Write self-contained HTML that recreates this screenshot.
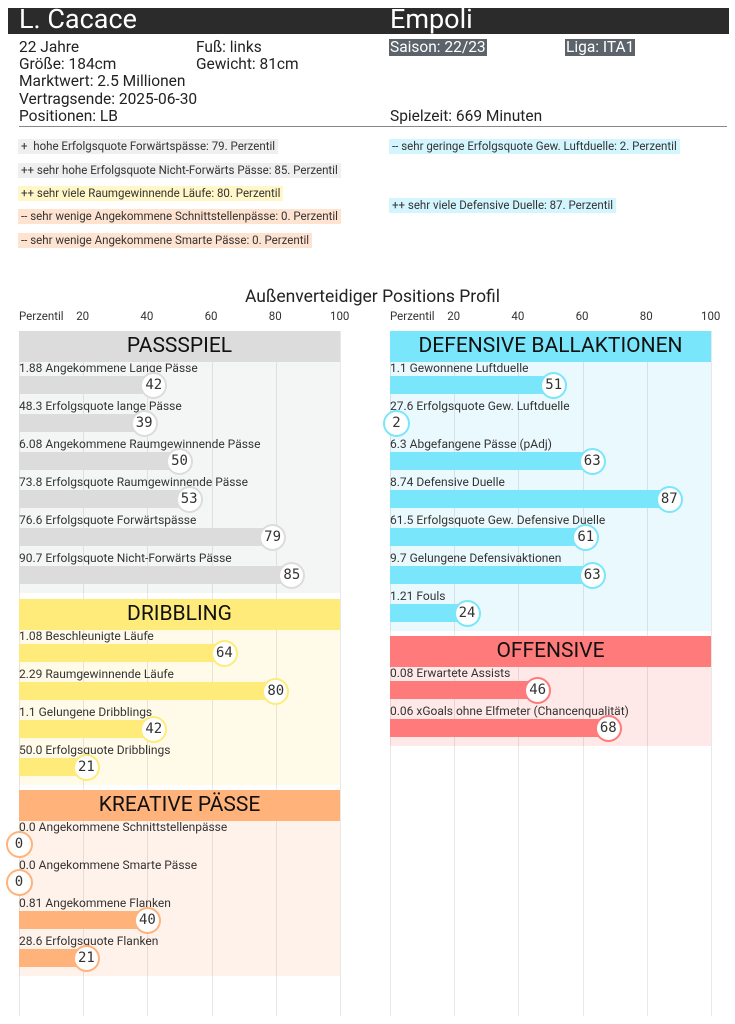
<!DOCTYPE html>
<html><head><meta charset="utf-8"><style>
body{margin:0;width:735px;height:1024px;background:#fff;position:relative;overflow:hidden;font-family:"Roboto","Liberation Sans",sans-serif;color:#222}
.a{position:absolute;white-space:nowrap}
.hdr{left:8px;top:8px;width:721px;height:26px;background:#2b2b2b}
.t{color:#fff;font-size:27px;line-height:27px;top:6px}
.i{font-size:15.5px;line-height:17px;color:#222}
.tag{font-size:11.5px;line-height:15px;padding:0 3px;color:#333}
.sec{font-size:21px;text-align:center;line-height:31px;color:#111}
.lab{font-size:12px;line-height:13px;color:#333}
.c{width:23px;height:23px;border-radius:50%;background:#fff;border:2px solid;font-family:"DejaVu Sans Mono","Liberation Mono",monospace;font-size:14px;line-height:23px;text-align:center;color:#333}
.g{width:1px;background:rgba(0,0,0,0.09);top:331px;height:685px}
.tk{font-size:11.5px;color:#333;top:309px}
</style></head><body>
<div class="a hdr"></div>
<div class="a t" style="left:19px">L. Cacace</div>
<div class="a t" style="left:390px">Empoli</div>
<div class="a i" style="left:19px;top:39px">22 Jahre</div>
<div class="a i" style="left:196px;top:39px">Fuß: links</div>
<div class="a i" style="left:19px;top:56px">Größe: 184cm</div>
<div class="a i" style="left:196px;top:56px">Gewicht: 81cm</div>
<div class="a i" style="left:19px;top:73px">Marktwert: 2.5 Millionen</div>
<div class="a i" style="left:19px;top:91px">Vertragsende: 2025-06-30</div>
<div class="a i" style="left:19px;top:108px">Positionen: LB</div>
<div class="a i" style="left:390px;top:108px">Spielzeit: 669 Minuten</div>
<div class="a i" style="left:389px;top:39px;background:#5c636b;color:#fff;padding:0 1px">Saison: 22/23</div>
<div class="a i" style="left:565px;top:39px;background:#5c636b;color:#fff;padding:0 1px">Liga: ITA1</div>
<div class="a" style="left:19px;top:126px;width:708px;height:1px;background:#888"></div>
<div class="a tag" style="left:18px;top:139px;background:#efefef">+&nbsp; hohe Erfolgsquote Forwärtspässe: 79. Perzentil</div>
<div class="a tag" style="left:18px;top:163px;background:#efefef">++ sehr hohe Erfolgsquote Nicht-Forwärts Pässe: 85. Perzentil</div>
<div class="a tag" style="left:18px;top:186px;background:#fff7c8">++ sehr viele Raumgewinnende Läufe: 80. Perzentil</div>
<div class="a tag" style="left:18px;top:209px;background:#ffe3d1">-- sehr wenige Angekommene Schnittstellenpässe: 0. Perzentil</div>
<div class="a tag" style="left:18px;top:233px;background:#ffe3d1">-- sehr wenige Angekommene Smarte Pässe: 0. Perzentil</div>
<div class="a tag" style="left:389px;top:139px;background:#d3f5fd">-- sehr geringe Erfolgsquote Gew. Luftduelle: 2. Perzentil</div>
<div class="a tag" style="left:389px;top:198px;background:#d3f5fd">++ sehr viele Defensive Duelle: 87. Perzentil</div>
<div class="a" style="left:0;width:735px;text-align:center;top:287px;font-size:17.5px;color:#222;padding-left:10px;box-sizing:border-box">Außenverteidiger Positions Profil</div>
<div id="ch"></div>
<script>
var bg='',h='',gl='';
function sec(x0,H,name,hc,bc,rc,rows){
 var n=rows.length;var end=H+45+38*(n-1)+18+9;
 bg+='<div class="a" style="left:'+x0+'px;top:'+(H+31)+'px;width:321px;height:'+(end-H-31)+'px;background:'+bc+'"></div>';
 h+='<div class="a sec" style="left:'+x0+'px;top:'+H+'px;width:321px;height:31px;background:'+hc+'">'+name+'</div>';
 rows.forEach(function(r,i){var y=H+38+38*i;var w=r[1]*3.21;
  h+='<div class="a lab" style="left:'+x0+'px;top:'+(y-7)+'px">'+r[0]+'</div>';
  h+='<div class="a" style="left:'+x0+'px;top:'+(y+7)+'px;width:'+w+'px;height:18px;background:'+hc+'"></div>';
  h+='<div class="a c" style="left:'+(x0+w-13.5)+'px;top:'+(y+3)+'px;border-color:'+rc+'">'+r[1]+'</div>';});
}
[19,390].forEach(function(x0){
 gl+='<div class="a tk" style="left:'+x0+'px">Perzentil</div>';
 for(var k=0;k<=5;k++){var x=x0+k*64.2;gl+='<div class="a g" style="left:'+Math.round(x)+'px"></div>';
  if(k>0)gl+='<div class="a tk" style="left:'+(x-(k==5?10:7))+'px">'+(k*20)+'</div>';}
});
sec(19,331,'PASSSPIEL','#dcdcdc','#f4f6f6','#dcdcdc',[['1.88 Angekommene Lange Pässe',42],['48.3 Erfolgsquote lange Pässe',39],['6.08 Angekommene Raumgewinnende Pässe',50],['73.8 Erfolgsquote Raumgewinnende Pässe',53],['76.6 Erfolgsquote Forwärtspässe',79],['90.7 Erfolgsquote Nicht-Forwärts Pässe',85]]);
sec(19,599,'DRIBBLING','#ffeb7a','#fffbe8','#ffeb7a',[['1.08 Beschleunigte Läufe',64],['2.29 Raumgewinnende Läufe',80],['1.1 Gelungene Dribblings',42],['50.0 Erfolgsquote Dribblings',21]]);
sec(19,790,'KREATIVE PÄSSE','#ffb27a','#fff2ea','#ffb27a',[['0.0 Angekommene Schnittstellenpässe',0],['0.0 Angekommene Smarte Pässe',0],['0.81 Angekommene Flanken',40],['28.6 Erfolgsquote Flanken',21]]);
sec(390,331,'DEFENSIVE BALLAKTIONEN','#7ae6fb','#e9f9fd','#7ae6fb',[['1.1 Gewonnene Luftduelle',51],['27.6 Erfolgsquote Gew. Luftduelle',2],['6.3 Abgefangene Pässe (pAdj)',63],['8.74 Defensive Duelle',87],['61.5 Erfolgsquote Gew. Defensive Duelle',61],['9.7 Gelungene Defensivaktionen',63],['1.21 Fouls',24]]);
sec(390,636,'OFFENSIVE','#ff7a7a','#ffe8e8','#ff7a7a',[['0.08 Erwartete Assists',46],['0.06 xGoals ohne Elfmeter (Chancenqualität)',68]]);
document.getElementById('ch').innerHTML=bg+gl+h;
</script>
</body></html>
